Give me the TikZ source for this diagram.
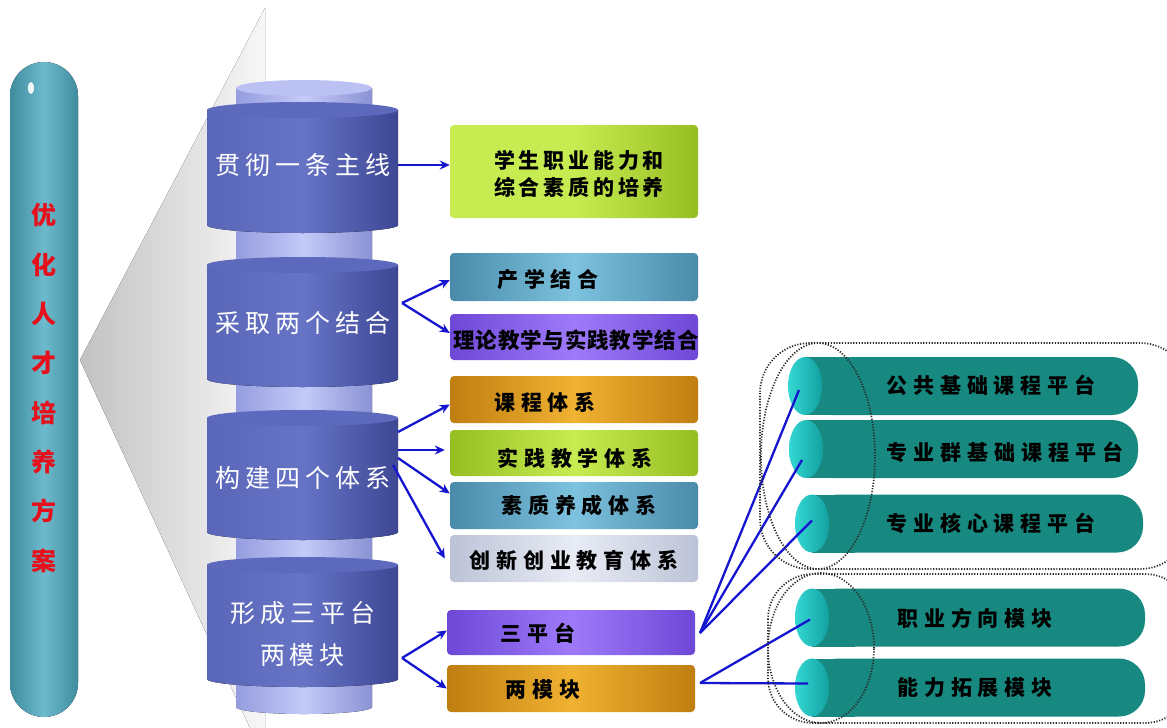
\documentclass[tikz,border=0pt]{standalone}
\usepackage{fontspec}
\usetikzlibrary{arrows.meta,shapes.geometric}
\newfontfamily\fcyl{Noto Sans CJK SC}[LetterSpace=20]
\newfontfamily\fbx{Noto Sans CJK SC}[LetterSpace=28]
\newfontfamily\fgr{Noto Sans CJK SC}[LetterSpace=18]
\newfontfamily\fth{Noto Sans CJK SC}[LetterSpace=4]
\newfontfamily\fred{Noto Sans CJK SC}
\definecolor{cylL}{HTML}{5A66B8}
\definecolor{cylM}{HTML}{6774C6}
\definecolor{cylR}{HTML}{3D4794}
\definecolor{cylT}{HTML}{5C69BC}
\definecolor{neckL}{HTML}{959DDF}
\definecolor{neckM}{HTML}{C4CAF8}
\definecolor{neckR}{HTML}{8A92D4}
\definecolor{pillL}{HTML}{6CBACB}
\definecolor{pillD}{HTML}{3E8C9E}
\definecolor{grnL}{HTML}{C6EC52}
\definecolor{grnD}{HTML}{96BE22}
\definecolor{sbL}{HTML}{7DC2DF}
\definecolor{sbD}{HTML}{4A8AAA}
\definecolor{purL}{HTML}{9E7AFA}
\definecolor{purD}{HTML}{6E48D6}
\definecolor{orL}{HTML}{F0B232}
\definecolor{orD}{HTML}{C07E10}
\definecolor{gyL}{HTML}{E8ECF5}
\definecolor{gyD}{HTML}{BDC3D7}
\definecolor{tubeC}{HTML}{178980}
\definecolor{capL}{HTML}{34D8D4}
\definecolor{capD}{HTML}{12A0A0}
\definecolor{arrblue}{HTML}{1515D0}
\definecolor{redtxt}{HTML}{E6101C}
\definecolor{dotc}{HTML}{2A2A2A}
\newcommand\bigcyl[2]{%
  \fill[left color=cylL, right color=cylR, middle color=cylM] (207,#1) rectangle (398,#2) (302.5,#2) ellipse [x radius=95.5pt, y radius=8pt];
  \fill[cylT] (302.5,#1) ellipse [x radius=95.5pt, y radius=8pt];
}
\newcommand\tubebody[3]{% xl, xr, yc
  \fill[tubeC, rounded corners=26] ({#1+17},{#3-29}) rectangle (#2,{#3+29});
  \fill[tubeC] ({#1+17},{#3-29}) rectangle ({#1+60},{#3+29});
}
\begin{document}
\begin{tikzpicture}[x=1pt,y=-1pt,
  cyltxt/.style={text=white, font=\fcyl\fontsize{25}{42}\selectfont, minimum width=191, inner sep=0, align=center},
  boxs/.style={rounded corners=4, minimum width=248, minimum height=#1, inner sep=0},
  btxt/.style={text=black, font=\fbx\bfseries\fontsize{21}{27}\selectfont, inner sep=0, align=center},
  ttxt/.style={text=black, font=\fbx\bfseries\fontsize{21}{27}\selectfont, inner sep=0},
  capn/.style={ellipse, inner sep=0, minimum width=34, minimum height=58, left color=capL, right color=capD},
  arr/.style={draw=arrblue, line width=2.3pt, -{Stealth[length=10pt,width=9pt]}},
  bl/.style={draw=arrblue, line width=2.3pt},
  dots/.style={draw=dotc, line width=1.7pt, dash pattern=on 1.2pt off 1.6pt}
]
\useasboundingbox (0,0) rectangle (1167,728);
\clip (0,0) rectangle (1167,728);
\fill[white] (0,0) rectangle (1167,728);

% gray wedge
\fill[left color=black!24, right color=black!3] (80,360) -- (265,8) -- (265,728) -- (250,728) -- cycle;

% left pill
\fill[left color=pillD, right color=pillD, middle color=pillL, rounded corners=34] (10,62) rectangle (78,717);
\fill[white, opacity=0.9] (31,88) ellipse [x radius=3pt, y radius=6pt];
\node[text=redtxt, font=\fred\bfseries\fontsize{25}{49.3}\selectfont, align=center, inner sep=0] (plan) at (44,388) {优\\化\\人\\才\\培\\养\\方\\案};

% neck column
\fill[left color=neckL, right color=neckR, middle color=neckM] (236,88) rectangle (372,707) (304,707) ellipse [x radius=68pt, y radius=7pt];
\fill[neckM!80!neckL] (304,88) ellipse [x radius=68pt, y radius=8pt];

% big cylinders
\bigcyl{110}{225}
\bigcyl{265}{379}
\bigcyl{418}{532}
\bigcyl{565}{679}

\node[cyltxt] (c1) at (302.5,165) {贯彻一条主线};
\node[cyltxt] (c2) at (302.5,323) {采取两个结合};
\node[cyltxt] (c3) at (302.5,478) {构建四个体系};
\node[cyltxt] (c4) at (302.5,634) {形成三平台\\两模块};

% right boxes
\node[boxs=93, left color=grnL, right color=grnD, middle color=grnL] (g1) at (574,171.5) {};
\node[boxs=48, left color=sbD, right color=sbD, middle color=sbL] (p1) at (574,277) {};
\node[boxs=46, left color=purD, right color=purD, middle color=purL] (p2) at (574,337) {};
\node[boxs=47, left color=orD, right color=orD, middle color=orL] (s1) at (574,399.5) {};
\node[boxs=46, left color=grnD, right color=grnD, middle color=grnL] (s2) at (574,453) {};
\node[boxs=47, left color=sbD, right color=sbD, middle color=sbL] (s3) at (574,505.5) {};
\node[boxs=47, left color=gyD, right color=gyD, middle color=gyL] (s4) at (574,558.5) {};
\node[boxs=45, left color=purD, right color=purD, middle color=purL] (t1) at (571,632.5) {};
\node[boxs=47, left color=orD, right color=orD, middle color=orL] (t2) at (571,688.5) {};

\node[btxt, font=\fgr\bfseries\fontsize{21}{27}\selectfont] (g1t) at (579,173.5) {学生职业能力和\\综合素质的培养};
\node[btxt] (p1t) at (548,280) {产学结合};
\node[btxt, font=\fth\bfseries\fontsize{21.5}{27}\selectfont] (p2t) at (576,340) {理论教学与实践教学结合};
\node[btxt] (s1t) at (545,402) {课程体系};
\node[btxt] (s2t) at (575,458) {实践教学体系};
\node[btxt] (s3t) at (579,505) {素质养成体系};
\node[btxt] (s4t) at (574,560) {创新创业教育体系};
\node[btxt] (t1t) at (538,633) {三平台};
\node[btxt] (t2t) at (543,690) {两模块};

% arrows from cylinders
\coordinate (o2) at (402,303);
\coordinate (o3a) at (398,432);
\coordinate (o3b) at (398,450);
\coordinate (o3c) at (398,458);
\coordinate (o3d) at (393,465);
\coordinate (o4) at (402,658);
\draw[arr] (c1.east) -- (c1.east -| g1.west);
\draw[arr] (o2) -- ([yshift=-3pt]p1.west);
\draw[arr] (o2) -- ([yshift=4pt]p2.west);
\draw[arr] (o3a) -- ([yshift=-5pt]s1.west);
\draw[arr] (o3b) -- ([xshift=-5pt]o3b -| s2.west);
\draw[arr] (o3c) -- ([yshift=12pt]s3.west);
\draw[arr] (o3d) -- ([xshift=-5pt]s4.west);
\draw[arr] (o4) -- ([yshift=2pt]t1.west);
\draw[arr] (o4) -- ([yshift=0pt]t2.west);

% teal tubes
\tubebody{788}{1138}{386}
\tubebody{789}{1138}{449}
\tubebody{795}{1143}{523.5}
\tubebody{795}{1145}{617.5}
\tubebody{795}{1145}{687.5}
\node[capn] (k1) at (805,386) {};
\node[capn] (k2) at (806,449) {};
\node[capn] (k3) at (812,523.5) {};
\node[capn] (k4) at (812,617.5) {};
\node[capn] (k5) at (812,687.5) {};
\node[ttxt] (u1) at (991,385) {公共基础课程平台};
\node[ttxt] (u2) at (1005,452) {专业群基础课程平台};
\node[ttxt] (u3) at (991,523) {专业核心课程平台};
\node[ttxt] (u4) at (975,618) {职业方向模块};
\node[ttxt] (u5) at (975,688) {能力拓展模块};

% connectors to tubes
\coordinate (e1) at (700,633);
\coordinate (e2) at (700,683);
\draw[bl] (e1) -- ([xshift=-6pt,yshift=-4pt]k1.center);
\draw[bl] (e1) -- ([xshift=-4pt,yshift=-11pt]k2.center);
\draw[bl] (e1) -- ([yshift=3pt]k3.center);
\draw[bl] (e2) -- ([xshift=-2pt,yshift=-2pt]k4.center);
\draw[bl] (e2) -- ([xshift=-4pt,yshift=4pt]k5.center);

% dotted groupings
\draw[dots, rounded corners=50] (760,343) rectangle (1190,569);
\draw[dots] (818,456) ellipse [x radius=57pt, y radius=113pt];
\draw[dots, rounded corners=45] (768,574) rectangle (1190,723);
\draw[dots] (821,648) ellipse [x radius=53pt, y radius=75pt];
\end{tikzpicture}
\end{document}
